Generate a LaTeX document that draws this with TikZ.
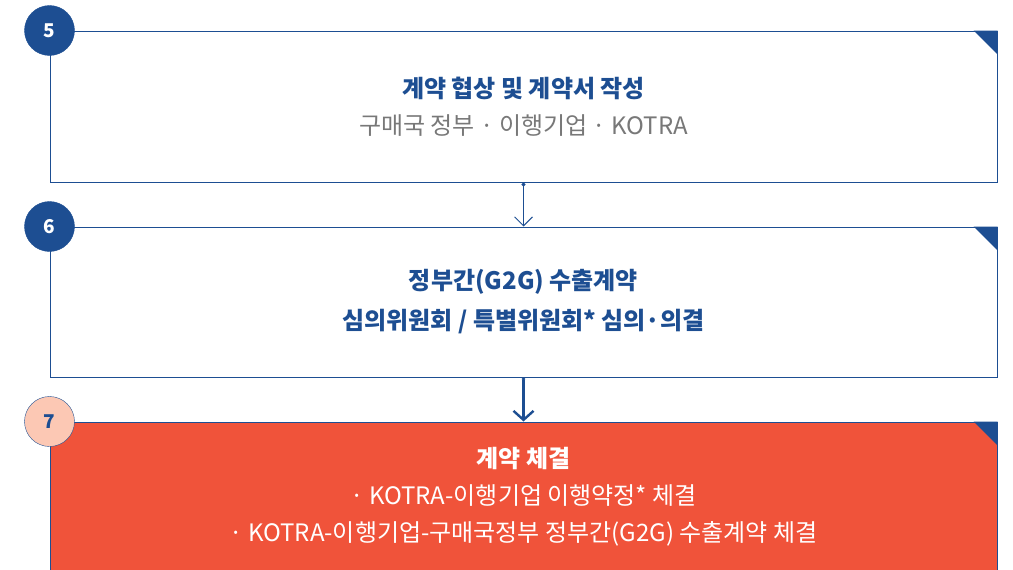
\documentclass[tikz,border=0pt]{standalone}
\usepackage{fontspec}
\setmainfont{Noto Sans CJK KR}
\usetikzlibrary{arrows.meta}
\definecolor{stepblue}{RGB}{29,78,146}
\definecolor{stepred}{RGB}{240,83,58}
\definecolor{steppeach}{RGB}{252,200,180}
\definecolor{stepgray}{RGB}{120,120,120}

\begin{document}
\begin{tikzpicture}[x=1pt,y=-1pt,
		stage/.style={draw=stepblue,line width=1pt,fill=white,minimum width=947pt,minimum height=151pt,
			align=center,inner sep=0pt,font=\fontsize{24}{37}\selectfont},
		badge/.style={circle,draw=stepblue,fill=stepblue,text=white,minimum size=50pt,inner sep=0pt,
			font=\bfseries\fontsize{19}{19}\selectfont},
		flow/.style={draw=stepblue,line width=0.9pt,{Circle[length=4pt]}-{Straight Barb[length=9pt,width=18pt]}}
		]
	\useasboundingbox (0,0) rectangle (1013,570);
	\clip (0,0) rectangle (1013,570);
	% stages
	\node [stage] (s5) at (523.5,106.5) {{\bfseries\color{stepblue}계약 협상 및 계약서 작성}\\{\color{stepgray}구매국 정부 · 이행기업 · KOTRA}};
	\node [stage,minimum height=150pt,font=\fontsize{24}{40}\selectfont] (s6) at (523.5,302) {\bfseries\color{stepblue}정부간(G2G) 수출계약\\\bfseries\color{stepblue}심의위원회 / 특별위원회* 심의·의결};
	\node [stage,minimum height=150pt,fill=stepred,text=white] (s7) at (523.5,497) {{\bfseries 계약 체결}\\· KOTRA-이행기업 이행약정* 체결\\· KOTRA-이행기업-구매국정부 정부간(G2G) 수출계약 체결};
	% corner marks
	\foreach \s in {s5,s6,s7}
		\fill [stepblue] ([xshift=-24pt]\s.north east) -- (\s.north east) -- ([yshift=-24pt]\s.north east) -- cycle;
	% step numbers
	\node [badge] (n5) at (s5.north west) {5};
	\node [badge] (n6) at (s6.north west) {6};
	\node [badge,fill=steppeach,text=stepblue] (n7) at (s7.north west) {7};
	% arrows
	\draw [flow] (s5.south) -- (s6.north);
	\draw [flow,line width=2.4pt,{Circle[length=3pt]}-{Straight Barb[length=9pt,width=20pt]}] (s6.south) -- (s7.north);
\end{tikzpicture}
\end{document}
